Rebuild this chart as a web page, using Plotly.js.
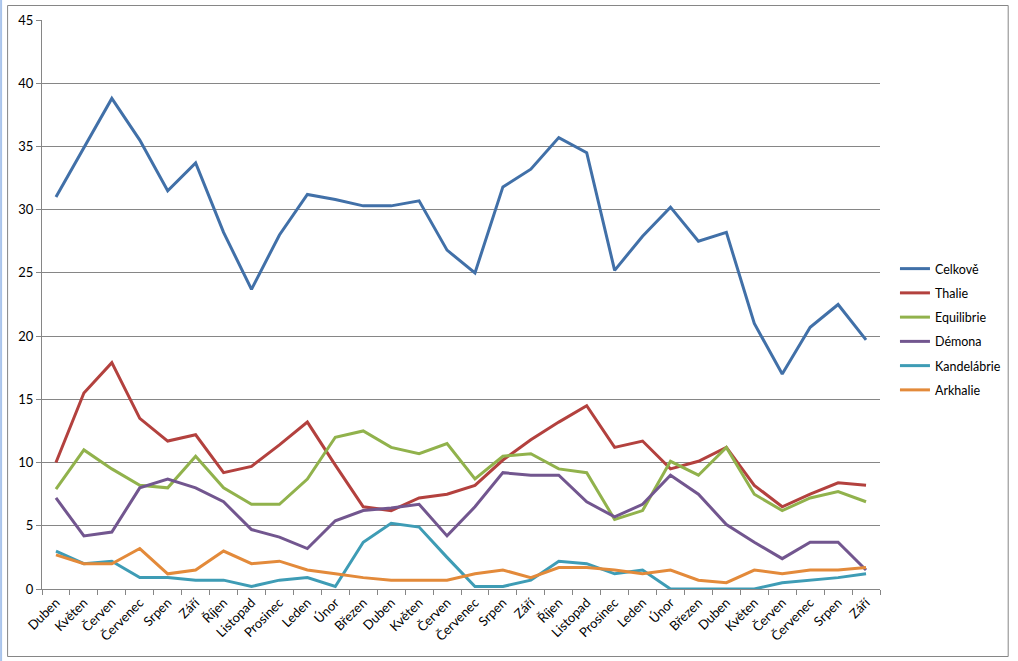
<!DOCTYPE html>
<html>
<head>
<meta charset="utf-8">
<script src="https://cdn.plot.ly/plotly-3.0.1.min.js"></script>
<style>
  html, body { margin: 0; padding: 0; background: #ffffff; }
  #chart { width: 1018px; height: 661px; }
</style>
</head>
<body>
<div id="chart"></div>
<script>
const months = ["Duben","Květen","Červen","Červenec","Srpen","Září","Říjen","Listopad","Prosinec","Leden","Únor","Březen","Duben","Květen","Červen","Červenec","Srpen","Září","Říjen","Listopad","Prosinec","Leden","Únor","Březen","Duben","Květen","Červen","Červenec","Srpen","Září"];

const seriesNames = ["Celkově","Thalie","Equilibrie","Démona","Kandelábrie","Arkhalie"];

const celkove     = [31.0,34.9,38.8,35.5,31.5,33.7,28.2,23.7,28.0,31.2,30.8,30.3,30.3,30.7,26.8,25.0,31.8,33.2,35.7,34.5,25.2,27.9,30.2,27.5,28.2,21.0,17.0,20.7,22.5,19.7];
const thalie      = [10.0,15.5,17.9,13.5,11.7,12.2,9.2,9.7,11.4,13.2,9.8,6.5,6.2,7.2,7.5,8.2,10.2,11.8,13.2,14.5,11.2,11.7,9.5,10.1,11.2,8.2,6.5,7.5,8.4,8.2];
const equilibrie  = [7.9,11.0,9.5,8.2,8.0,10.5,8.0,6.7,6.7,8.7,12.0,12.5,11.2,10.7,11.5,8.7,10.5,10.7,9.5,9.2,5.5,6.2,10.1,9.0,11.2,7.5,6.2,7.2,7.7,6.9];
const demona      = [7.2,4.2,4.5,8.0,8.7,8.0,6.9,4.7,4.1,3.2,5.4,6.2,6.4,6.7,4.2,6.5,9.2,9.0,9.0,6.9,5.7,6.7,9.0,7.5,5.1,3.7,2.4,3.7,3.7,1.5];
const kandelabrie = [3.0,2.0,2.2,0.9,0.9,0.7,0.7,0.2,0.7,0.9,0.2,3.7,5.2,4.9,2.5,0.2,0.2,0.7,2.2,2.0,1.2,1.5,0.0,0.0,0.0,0.0,0.5,0.7,0.9,1.2];
const arkhalie    = [2.7,2.0,2.0,3.2,1.2,1.5,3.0,2.0,2.2,1.5,1.2,0.9,0.7,0.7,0.7,1.2,1.5,0.9,1.7,1.7,1.5,1.2,1.5,0.7,0.5,1.5,1.2,1.5,1.5,1.7];

const yTicks = [0,5,10,15,20,25,30,35,40,45];

const allValues = [celkove, thalie, equilibrie, demona, kandelabrie, arkhalie];
const colors = ["#4170A8","#B3413E","#91B24C","#72568F","#3E9CB5","#E38A3A"];

const xIdx = months.map((m, i) => i);

const traces = allValues.map((vals, k) => ({
  type: "scatter",
  mode: "lines",
  name: seriesNames[k],
  legendgroup: "g" + k,
  x: xIdx,
  y: vals,
  line: { color: colors[k], width: 3 },
  hoverinfo: "skip"
}));

// pixel -> paper helpers for the frame
const L = 42, R = 882, T = 20, B = 589;
const px = v => (v - L) / (R - L);
const py = v => (B - v) / (B - T);

const layout = {
  width: 1018,
  height: 661,
  margin: { l: L, r: 1018 - R, t: T, b: 661 - B },
  paper_bgcolor: "#ffffff",
  plot_bgcolor: "#ffffff",
  font: { family: "Lato, 'Open Sans', sans-serif", size: 13, color: "#000000" },
  showlegend: true,
  legend: {
    x: px(897), xanchor: "left",
    y: py(254), yanchor: "top",
    font: { family: "Lato, sans-serif", size: 12.5, color: "#000000" },
    tracegroupgap: 5,
    itemwidth: 30,
    bgcolor: "rgba(0,0,0,0)"
  },
  xaxis: {
    type: "linear",
    range: [-0.5, months.length - 0.5],
    tickmode: "array",
    tickvals: xIdx,
    ticktext: months,
    tickangle: -45,
    ticks: "",
    showgrid: false,
    zeroline: false,
    showline: true,
    linecolor: "#868686",
    linewidth: 1,
    tickfont: { family: "Lato, sans-serif", size: 13, color: "#000000" },
    minor: { tick0: 0.5, dtick: 1, ticks: "outside", ticklen: 5, tickcolor: "#868686", tickwidth: 1, showgrid: false },
    fixedrange: true
  },
  yaxis: {
    range: [0, 45],
    tickmode: "array",
    tickvals: yTicks,
    ticktext: yTicks.map(String),
    ticks: "outside",
    ticklen: 5,
    tickcolor: "#868686",
    showgrid: true,
    gridcolor: "#868686",
    gridwidth: 1,
    zeroline: false,
    showline: true,
    linecolor: "#868686",
    linewidth: 1,
    tickfont: { family: "Lato, sans-serif", size: 13, color: "#000000" },
    fixedrange: true
  },
  shapes: [
    {
      type: "rect", xref: "paper", yref: "paper",
      x0: px(7.5), x1: px(1010.5), y0: py(656.5), y1: py(5.5),
      line: { color: "#868686", width: 1 }, fillcolor: "rgba(0,0,0,0)", layer: "below"
    },
    {
      type: "rect", xref: "paper", yref: "paper",
      x0: px(0), x1: px(2), y0: py(661), y1: py(0),
      line: { width: 0 }, fillcolor: "#A9C4EB", layer: "below"
    }
  ]
};

Plotly.newPlot("chart", traces, layout, { displayModeBar: false, staticPlot: true });
</script>
</body>
</html>
